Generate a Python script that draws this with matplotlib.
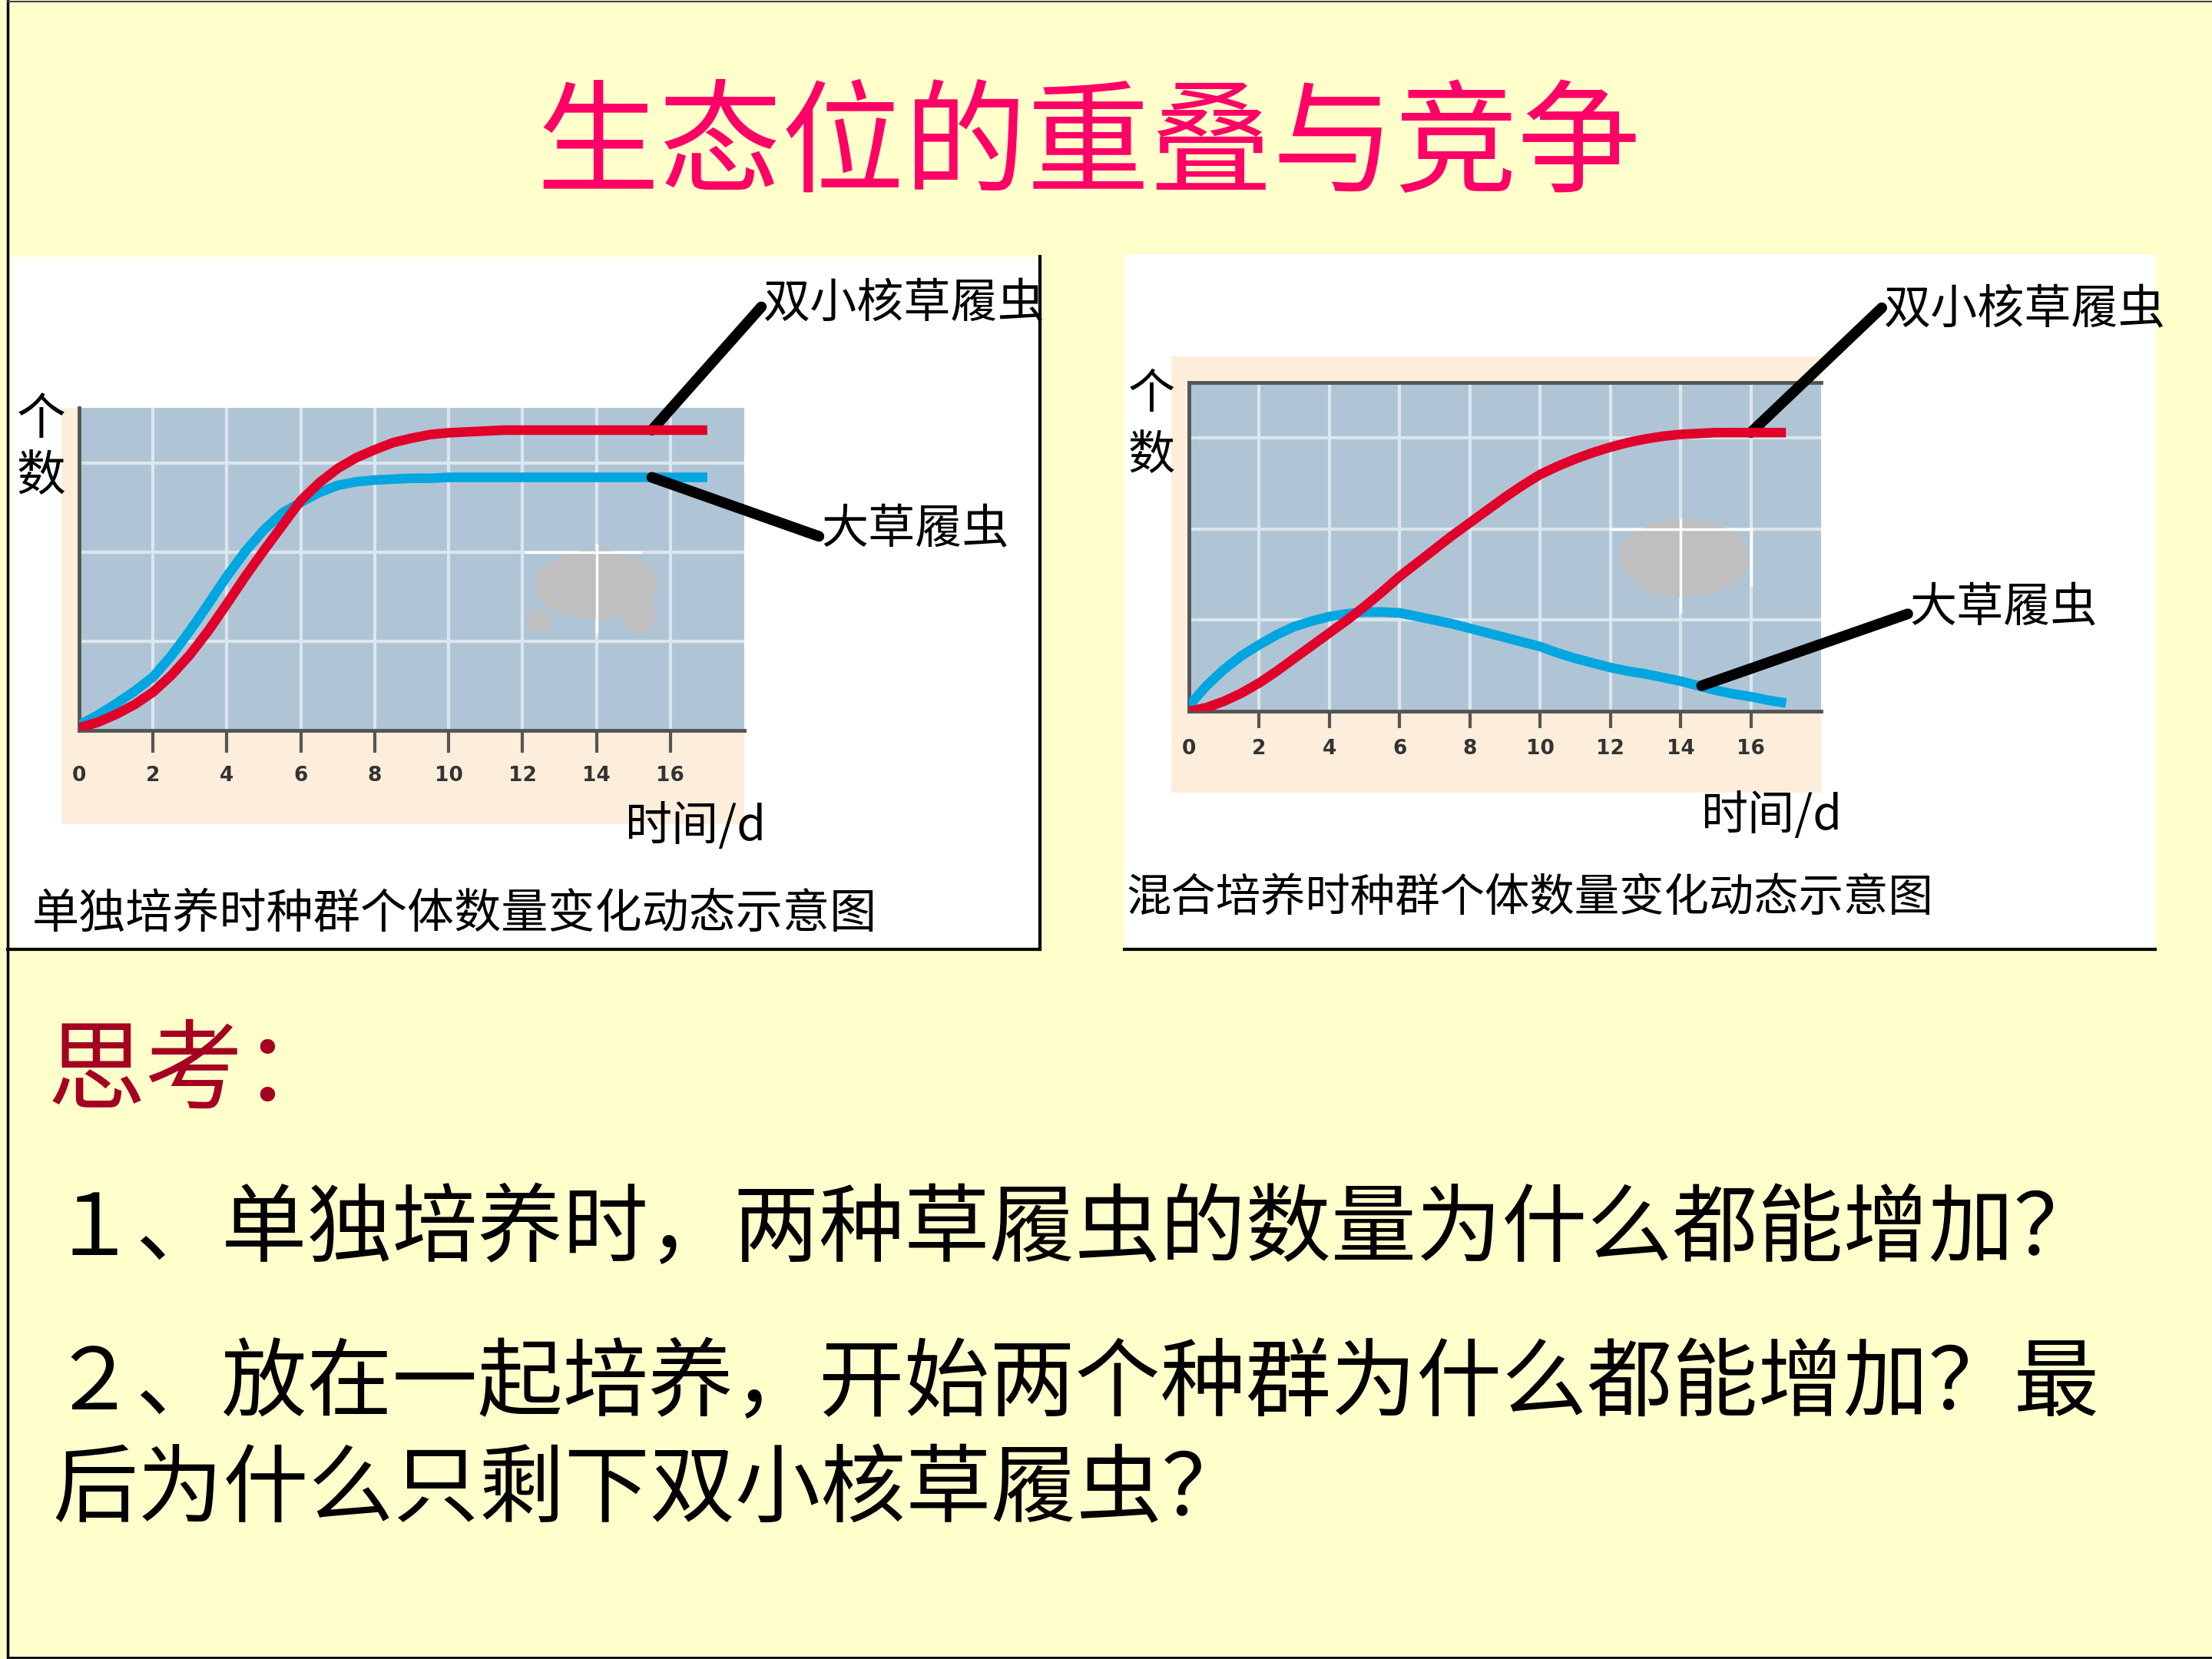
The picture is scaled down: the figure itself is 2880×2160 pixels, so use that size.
import matplotlib
matplotlib.use("Agg")
import matplotlib.pyplot as plt
from matplotlib.patches import Rectangle, Ellipse

plt.rcParams['font.family'] = ['Noto Sans CJK SC', 'DejaVu Sans']

W, H = 2880, 2160

# data (days, population in grid units)
days = [0, 0.5, 1, 1.5, 2, 2.5, 3, 3.5, 4, 4.5, 5, 5.5, 6, 6.5, 7, 7.5, 8, 8.5,
        9, 9.5, 10, 10.5, 11, 11.5, 12, 12.5, 13, 13.5, 14, 14.5, 15, 15.5,
        16, 16.5, 17]
alone_shuang = [0.03, 0.09, 0.18, 0.29, 0.43, 0.62, 0.85, 1.12, 1.42, 1.73,
                2.02, 2.30, 2.58, 2.78, 2.94, 3.06, 3.15, 3.23, 3.28, 3.32,
                3.34, 3.35, 3.36, 3.37, 3.37, 3.37, 3.37, 3.37, 3.37, 3.37,
                3.37, 3.37, 3.37, 3.37, 3.37]
alone_da = [0.06, 0.17, 0.30, 0.44, 0.60, 0.84, 1.12, 1.42, 1.73, 2.01,
            2.25, 2.44, 2.56, 2.67, 2.75, 2.79, 2.81, 2.82, 2.83, 2.83,
            2.84, 2.84, 2.84, 2.84, 2.84, 2.84, 2.84, 2.84, 2.84, 2.84,
            2.84, 2.84, 2.84, 2.84, 2.84]
mixed_shuang = [0.0, 0.04, 0.11, 0.20, 0.31, 0.44, 0.58, 0.72, 0.86, 1.00,
                1.15, 1.31, 1.48, 1.63, 1.78, 1.93, 2.07, 2.21, 2.35, 2.48,
                2.60, 2.69, 2.77, 2.84, 2.90, 2.95, 2.99, 3.02, 3.04, 3.05,
                3.06, 3.06, 3.06, 3.06, 3.06]
mixed_da = [0.06, 0.28, 0.46, 0.61, 0.73, 0.84, 0.93, 0.99, 1.04, 1.07,
            1.09, 1.09, 1.08, 1.04, 1.00, 0.96, 0.91, 0.86, 0.81, 0.76,
            0.71, 0.64, 0.58, 0.53, 0.48, 0.44, 0.41, 0.37, 0.33, 0.28,
            0.23, 0.19, 0.16, 0.12, 0.09]
xticks = [0, 2, 4, 6, 8, 10, 12, 14, 16]
yticks = [1, 2, 3]

name_shuang = '双小核草履虫'
name_da = '大草履虫'

RED = '#E0002A'
BLUE = '#00A6E0'
PLOT_BG = '#AFC5D5'
PEACH = '#FDEEDC'
GRID = '#DCE6EE'
SPINE = '#555555'


def px_axes(fig, x0, y0, x1, y1):
    return fig.add_axes([x0 / W, 1 - y1 / H, (x1 - x0) / W, (y1 - y0) / H])


def fx(x):
    return x / W


def fy(y):
    return 1 - y / H


fig = plt.figure(figsize=(28.8, 21.6), dpi=100, facecolor='#FFFFCC')

# background layer in pixel coordinates
bg = fig.add_axes([0, 0, 1, 1])
bg.set_zorder(-1)
bg.set_xlim(0, W)
bg.set_ylim(H, 0)
bg.axis('off')
bg.add_patch(Rectangle((15, 334), 1339, 902, color='white', lw=0))
bg.add_patch(Rectangle((1464, 331), 1342, 905, color='white', lw=0))
bg.add_patch(Rectangle((80, 531), 889, 542, color=PEACH, lw=0))
bg.add_patch(Rectangle((1525, 464), 846, 568, color=PEACH, lw=0))
bg.plot([1354, 1354], [334, 1236], color='black', lw=3)
bg.plot([10, 1354], [1236, 1236], color='black', lw=3)
bg.plot([1464, 2806], [1236, 1236], color='black', lw=3)
bg.plot([10, 10], [0, H], color='black', lw=2.5)
bg.plot([10, W], [1.5, 1.5], color='#444444', lw=1.5)
bg.plot([10, W], [2158, 2158], color='black', lw=2)


def draw_chart(ax, y_top, s_vals, d_vals, tick_len, tick_pad, top_spine):
    ax.set_facecolor(PLOT_BG)
    ax.set_xlim(0, 18)
    ax.set_ylim(0, y_top)
    ax.set_xticks(xticks)
    ax.set_xticklabels([str(t) for t in xticks], fontsize=19, fontweight='bold',
                       color='#333333', family='DejaVu Sans')
    ax.set_yticks(yticks)
    ax.tick_params(axis='y', length=0, labelleft=False)
    ax.tick_params(axis='x', length=tick_len, width=3, color=SPINE, pad=tick_pad)
    ax.xaxis.get_major_ticks()[0].tick1line.set_visible(False)
    ax.grid(True, color=GRID, lw=3)
    ax.set_axisbelow(True)
    for side in ['left', 'bottom', 'top', 'right']:
        ax.spines[side].set_visible(False)
    for side in ['left', 'bottom'] + (['top'] if top_spine else []):
        ax.spines[side].set_visible(True)
        ax.spines[side].set_color(SPINE)
        ax.spines[side].set_linewidth(3.5)
    ax.plot(days, s_vals, color=RED, lw=9, solid_capstyle='butt',
            solid_joinstyle='round', zorder=4)
    ax.plot(days, d_vals, color=BLUE, lw=9, solid_capstyle='butt',
            solid_joinstyle='round', zorder=3)


def pointer(ax, text, xy, xytext, relpos):
    ax.annotate(text, xy=xy, xytext=xytext, fontsize=44, ha='left', va='center',
                annotation_clip=False,
                arrowprops=dict(arrowstyle='-', lw=10, color='black',
                                relpos=relpos, shrinkA=0, shrinkB=0))


# left chart: 单独培养
ax1 = px_axes(fig, 103, 531, 969, 951)
draw_chart(ax1, 3.62, alone_shuang, alone_da, 21, 12, False)
ax1.add_patch(Ellipse((14.0, 1.64), 3.3, 0.78, color='#BFBFBF', lw=0, zorder=2))
ax1.add_patch(Ellipse((12.45, 1.24), 0.65, 0.27, color='#BFBFBF', lw=0, zorder=2))
ax1.add_patch(Ellipse((15.15, 1.3), 0.9, 0.42, color='#BFBFBF', lw=0, zorder=2))
ax1.plot([12.1, 15.2], [2, 2], color='white', lw=2.5, zorder=2.5)
ax1.plot([14, 14], [1.11, 2.08], color='white', lw=2.5, zorder=2.5)

pointer(ax1, name_shuang, (15.5, 3.37), (18.52, 4.78), (0, 0.5))
pointer(ax1, name_da, (15.5, 2.84), (20.08, 2.25), (0, 0.35))

# right chart: 混合培养
ax2 = px_axes(fig, 1548, 498, 2371, 926)
draw_chart(ax2, 3.61, mixed_shuang, mixed_da, 16, 10, True)
ax2.add_patch(Ellipse((14.1, 1.68), 3.7, 0.86, color='#BFBFBF', lw=0, zorder=2))
ax2.plot([12.0, 16.0], [2, 2], color='white', lw=2.5, zorder=2.5)
ax2.plot([14, 14], [1.1, 2.1], color='white', lw=2.5, zorder=2.5)
ax2.plot([16, 16], [1.38, 2.0], color='white', lw=2.5, zorder=2.5)

pointer(ax2, name_shuang, (16.0, 3.06), (19.79, 4.40), (0, 0.6))
pointer(ax2, name_da, (14.6, 0.28), (20.53, 1.13), (0, 0.4))

# axis labels and captions
fig.text(fx(54), fy(547), '个', fontsize=46, ha='center', va='center')
fig.text(fx(54), fy(621), '数', fontsize=46, ha='center', va='center')
fig.text(fx(1499), fy(514), '个', fontsize=44, ha='center', va='center')
fig.text(fx(1499), fy(594), '数', fontsize=44, ha='center', va='center')
fig.text(fx(905), fy(1077), '时间/d', fontsize=44, ha='center', va='center')
fig.text(fx(2306), fy(1063), '时间/d', fontsize=44, ha='center', va='center')
fig.text(fx(592), fy(1190), '单独培养时种群个体数量变化动态示意图', fontsize=44,
         ha='center', va='center')
fig.text(fx(1992), fy(1170), '混合培养时种群个体数量变化动态示意图', fontsize=42,
         ha='center', va='center')

# title and questions
fig.text(fx(1417), fy(193), '生态位的重叠与竞争', fontsize=115, color='#FF0066',
         ha='center', va='center')
fig.text(fx(62), fy(1398), '思考：', fontsize=92, color='#A50021',
         ha='left', va='center')
fig.text(fx(66), fy(1602), '１、单独培养时，两种草履虫的数量为什么都能增加？',
         fontsize=80, ha='left', va='center')
fig.text(fx(66), fy(1803), '２、放在一起培养，开始两个种群为什么都能增加？最',
         fontsize=80, ha='left', va='center')
fig.text(fx(68), fy(1941), '后为什么只剩下双小核草履虫？',
         fontsize=80, ha='left', va='center')

fig.savefig('out.png', dpi=100, facecolor=fig.get_facecolor())
